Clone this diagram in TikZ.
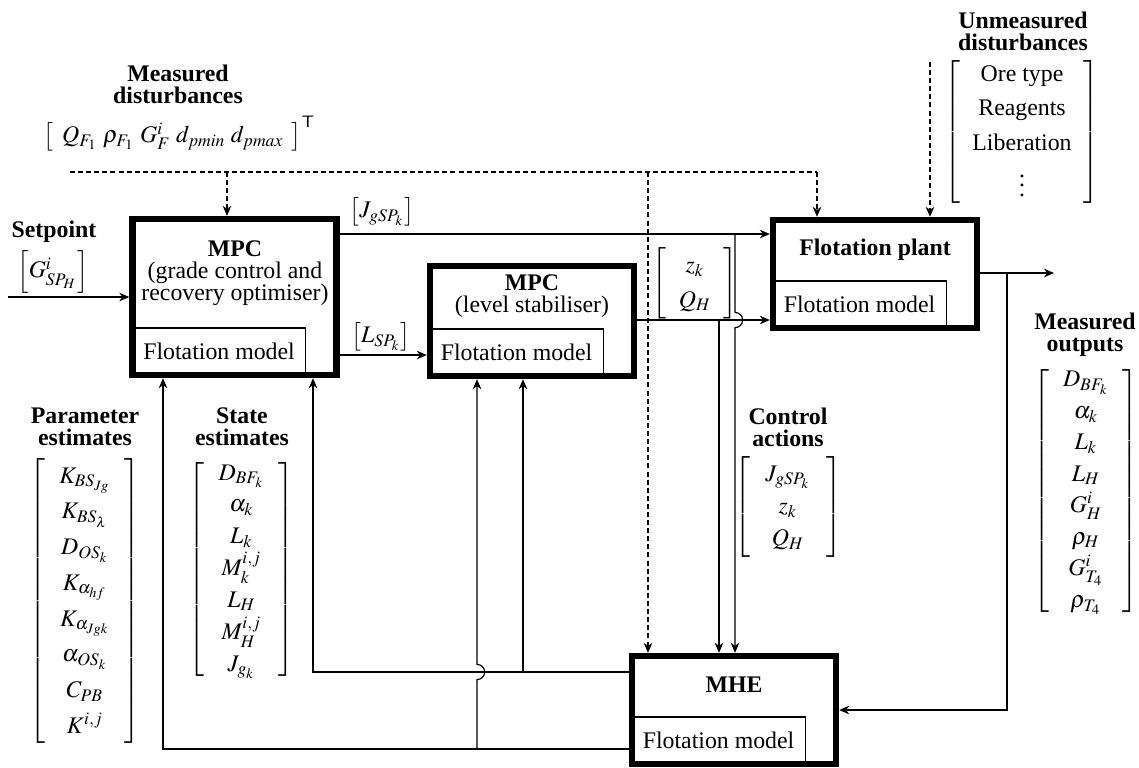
\documentclass[tikz,border=0pt]{standalone}
\usepackage{amsmath}
\usepackage{mathptmx}
\usepackage{fontspec}
\setmainfont{Liberation Serif}
\usepackage{array}
\usepackage{tikz}
\usetikzlibrary{positioning,arrows.meta,calc}
\newcommand{\px}{0.42pt}
\renewcommand{\arraystretch}{1.1}

\begin{document}
\begin{tikzpicture}[x=\px,y=-\px,
    block/.style={draw,line width=2.7pt,minimum width=204*\px,inner sep=0pt},
    fmbox/.style={draw,line width=.45pt,anchor=south west,minimum width=173*\px,minimum height=47*\px,inner sep=0pt,outer sep=0pt},
    boxtitle/.style={align=center,inner sep=0pt,font=\fontsize{10pt}{9.3pt}\selectfont},
    head/.style={align=center,inner sep=0pt,font=\fontsize{10pt}{9.3pt}\selectfont\bfseries},
    vec/.style={inner sep=0pt},
    conn/.style={line width=.5pt},
    arr/.style={conn,-{Stealth[length=4.2pt,width=3.6pt,inset=1.3pt]}},
    dist/.style={line width=.5pt,dash pattern=on 2.1pt off 1.3pt},
    darr/.style={dist,-{Stealth[length=4.2pt,width=3.6pt,inset=1.3pt]}}]
    \useasboundingbox (0,0) rectangle (1139,767);
    % blocks
    \node[block,minimum height=156*\px] (mpc1) at (234.5,297) {};
    \node[boxtitle] (mpc1t) at (235,273) {\textbf{MPC}\\(grade control and\\recovery optimiser)};
    \node[fmbox] (mpc1m) at ([shift={(1.37pt,1.37pt)}]mpc1.south west) {Flotation model};
    \node[block,minimum height=110*\px] (mpc2) at (532,321) {};
    \node[boxtitle] (mpc2t) at (532,296.5) {\textbf{MPC}\\(level stabiliser)};
    \node[fmbox] (mpc2m) at ([shift={(1.37pt,1.37pt)}]mpc2.south west) {Flotation model};
    \node[block,minimum height=108*\px] (plant) at (875,274) {};
    \node[head] (plantt) at (875,250) {Flotation plant};
    \node[fmbox] (plantm) at ([shift={(1.37pt,1.37pt)}]plant.south west) {Flotation model};
    \node[block,minimum height=108*\px] (mhe) at (734,710) {};
    \node[head] (mhet) at (734,685) {MHE};
    \node[fmbox] (mhem) at ([shift={(1.37pt,1.37pt)}]mhe.south west) {Flotation model};
    % signal labels
    \node[head] (spt) at (54,232) {Setpoint};
    \node[vec] (spv) at (53,272) {$\left[G^i_{SP_H}\right]$};
    \node[vec] (jv) at (382,212) {$\left[J_{gSP_k}\right]$};
    \node[vec] (lv) at (381,337) {$\left[L_{SP_k}\right]$};
    \node[vec] (zqv) at (695,283) {{\renewcommand{\arraystretch}{1.2}$\left[\begin{array}{@{}w{c}{24pt}@{}} z_k\\ Q_H\end{array}\right]$}};
    \node[head] (mdt) at (178,84) {Measured\\disturbances};
    \node[vec] (mdv) at (173.5,136.5) {$\left[\begin{array}{@{}w{c}{100pt}@{}} Q_{F_1}\;\rho_{F_1}\;G^i_F\;d_{pmin}\;d_{pmax}\end{array}\right]^{\smash{\rlap{$\scriptstyle\mathsf{T}$}}}$};
    \node[head] (udt) at (1023,31) {Unmeasured\\disturbances};
    \node[vec] (udv) at (1022,132) {{\renewcommand{\arraystretch}{1.2}$\left[\begin{array}{@{}w{c}{52pt}@{}}\text{Ore type}\\ \text{Reagents}\\ \text{Liberation}\\ \vdots\end{array}\right]$}};
    \node[head] (pet) at (85,427) {Parameter\\estimates};
    \node[vec] (pev) at (85,601) {{\renewcommand{\arraystretch}{1.25}$\left[\begin{array}{@{}w{c}{33pt}@{}} K_{BS_{Jg}}\\ K_{BS_\lambda}\\ D_{OS_k}\\ K_{\alpha_{hf}}\\ K_{\alpha_{Jgk}}\\ \alpha_{OS_k}\\ C_{PB}\\ K^{i,j}\end{array}\right]$}};
    \node[head] (set) at (242,427) {State\\estimates};
    \node[vec] (sev) at (241.5,569.5) {$\left[\begin{array}{@{}w{c}{31pt}@{}} D_{BF_k}\\ \alpha_k\\ L_k\\ M^{i,j}_k\\ L_H\\ M^{i,j}_H\\ J_{g_k}\end{array}\right]$};
    \node[head] (cat) at (788,427) {Control\\actions};
    \node[vec] (cav) at (788,507) {{\renewcommand{\arraystretch}{1.13}$\left[\begin{array}{@{}w{c}{32pt}@{}} J_{gSP_k}\\ z_k\\ Q_H\end{array}\right]$}};
    \node[head] (mot) at (1085,335) {Measured\\outputs};
    \node[vec] (mov) at (1086,491) {$\left[\begin{array}{@{}w{c}{31pt}@{}} D_{BF_k}\\ \alpha_k\\ L_k\\ L_H\\ G^i_H\\ \rho_H\\ G^i_{T_4}\\ \rho_{T_4}\end{array}\right]$};
    % junctions
    \coordinate (spin) at (8,297);
    \coordinate (mdl) at (70,172);
    \coordinate (mda) at (227,172);
    \coordinate (mdb) at (648,172);
    \coordinate (mdr) at (817,172);
    \coordinate (udtop) at (930,62);
    \coordinate (jb) at (735,234);
    \coordinate (ly) at (380,355);
    \coordinate (zb) at (719,320);
    \coordinate (ob) at (1007,273);
    \coordinate (out) at (1054,273);
    \coordinate (fba) at (313,672);
    \coordinate (fbb) at (523,672);
    \coordinate (fbc) at (163,749);
    \coordinate (fbd) at (477,749);
    % signals
    \draw[arr] (spin) -- (mpc1.west);
    \draw[arr] (mpc1.east |- jb) -- (plant.west |- jb);
    \draw[arr] (mpc1.east |- ly) -- (mpc2.west |- ly);
    \draw[arr] (mpc2.east |- zb) -- (plant.west |- zb);
    \draw[arr] (plant.east |- ob) -- (out);
    \draw[arr] (ob) |- (mhe.east);
    \draw[arr] (jb) -- ($(jb |- zb)+(0,-7.6)$) arc[start angle=90,end angle=-90,radius=3.2pt] -- (jb |- mhe.north);
    \draw[arr] (zb) -- (zb |- mhe.north);
    \draw[arr] (mhe.west |- fba) -| (fba |- mpc1.south);
    \draw[arr] (fbb) -- (fbb |- mpc2.south);
    \draw[arr] (mhe.west |- fbc) -| (fbc |- mpc1.south);
    \draw[arr] (fbd) -- ($(fbd |- fba)+(0,7.6)$) arc[start angle=-90,end angle=90,radius=3.2pt] -- (fbd |- mpc2.south);
    % disturbances
    \draw[dist] (mdl) -- (mdr);
    \draw[darr] (mda) -- (mda |- mpc1.north);
    \draw[darr] (mdb) -- (mdb |- mhe.north);
    \draw[darr] (mdr) -- (mdr |- plant.north);
    \draw[darr] (udtop) -- (udtop |- plant.north);
\end{tikzpicture}
\end{document}
